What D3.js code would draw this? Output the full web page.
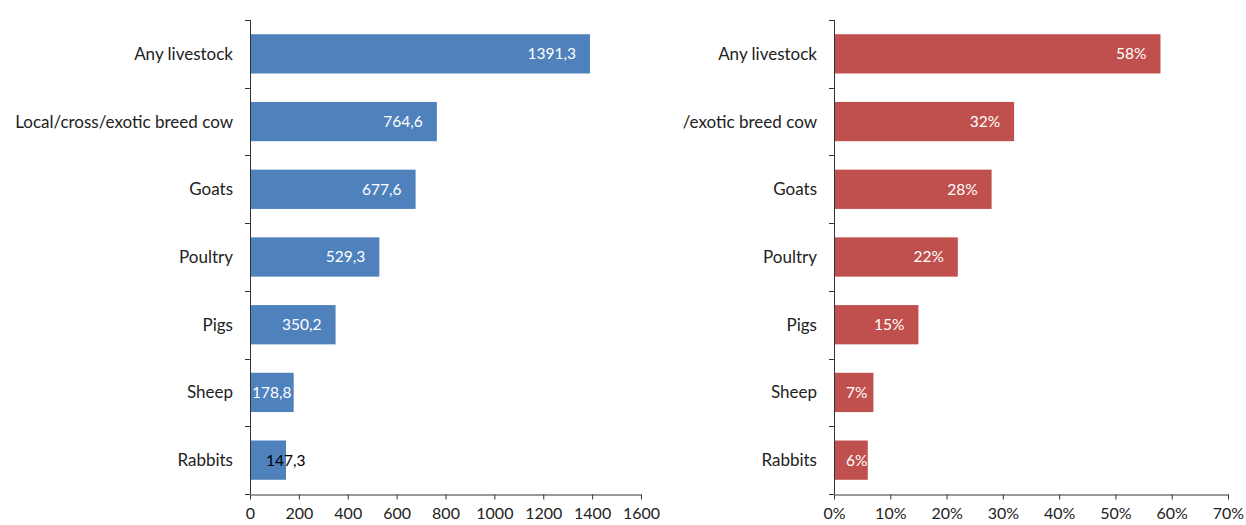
<!DOCTYPE html>
<html>
<head>
<meta charset="utf-8">
<script src="https://cdn.jsdelivr.net/npm/d3@7"></script>
<style>
  body { margin: 0; background: #fff; }
  text { font-family: Lato, "Open Sans", sans-serif; }
</style>
</head>
<body>
<svg id="chart" width="1246" height="525"></svg>
<script>
const categories = ['Any livestock', 'Local/cross/exotic breed cow', 'Goats', 'Poultry', 'Pigs', 'Sheep', 'Rabbits']
const counts = [1391.3, 764.6, 677.6, 529.3, 350.2, 178.8, 147.3]
const shares = [0.58, 0.32, 0.28, 0.22, 0.15, 0.07, 0.06]
const countTicks = [0, 200, 400, 600, 800, 1000, 1200, 1400, 1600]
const shareTicks = [0, 0.1, 0.2, 0.3, 0.4, 0.5, 0.6, 0.7]
const countLabelColors = ['#fff', '#fff', '#fff', '#fff', '#fff', '#fff', '#000']

const svg = d3.select('#chart')
const plotTop = 20, plotBottom = 494

const y = d3.scaleBand()
  .domain(categories)
  .range([plotTop, plotBottom])
  .paddingInner(0.42)
  .paddingOuter(0.21)

function drawPanel(opts) {
  const g = svg.append('g')
  const x = d3.scaleLinear().domain(opts.domain).range([opts.x0, opts.x1])

  // clip for category labels (right panel cuts the long one)
  const clipId = 'clip' + opts.x0
  svg.append('clipPath').attr('id', clipId)
    .append('rect')
      .attr('x', opts.clipLeft).attr('y', 0)
      .attr('width', opts.x0 - opts.clipLeft).attr('height', 525)

  // bars
  g.selectAll('rect.bar')
    .data(opts.values)
    .join('rect')
      .attr('class', 'bar')
      .attr('x', x(0))
      .attr('y', (d, i) => y(categories[i]))
      .attr('width', d => x(d) - x(0))
      .attr('height', y.bandwidth())
      .attr('fill', opts.color)

  // value labels
  g.selectAll('text.val')
    .data(opts.values)
    .join('text')
      .attr('class', 'val')
      .attr('y', (d, i) => y(categories[i]) + y.bandwidth() / 2)
      .attr('dy', '0.35em')
      .attr('text-anchor', 'end')
      .attr('font-size', 15.5)
      .attr('fill', (d, i) => opts.labelColors[i])
      .text(d => opts.format(d))
      .attr('x', function(d, i) {
        const w = this.getComputedTextLength()
        return Math.max(x(d) - 14, x(0) + w + opts.minPad[i])
      })

  // category labels
  g.append('g').attr('clip-path', 'url(#' + clipId + ')')
    .selectAll('text')
    .data(categories)
    .join('text')
      .attr('x', opts.x0 - 17)
      .attr('y', d => y(d) + y.bandwidth() / 2)
      .attr('dy', '0.35em')
      .attr('text-anchor', 'end')
      .attr('font-size', 17)
      .attr('fill', '#222')
      .text(d => d)

  // y axis line + band ticks
  const axis = g.append('g').attr('stroke', '#333').attr('stroke-width', 1)
  axis.append('line')
    .attr('x1', x(0) + 0.5).attr('x2', x(0) + 0.5)
    .attr('y1', plotTop).attr('y2', plotBottom)
  const bounds = categories.map(c => y(c) - y.step() * y.paddingInner() / 2)
  bounds.push(plotBottom)
  axis.selectAll('line.yt')
    .data(bounds)
    .join('line')
      .attr('class', 'yt')
      .attr('x1', x(0) - 5).attr('x2', x(0))
      .attr('y1', d => Math.round(Math.max(d, plotTop)) + 0.5)
      .attr('y2', d => Math.round(Math.max(d, plotTop)) + 0.5)

  // x axis
  const xAxis = d3.axisBottom(x)
    .tickValues(opts.ticks)
    .tickFormat(opts.tickFormat)
    .tickSize(5)
    .tickSizeOuter(0)
  const xg = g.append('g')
    .attr('transform', 'translate(0,' + (plotBottom + 0.5) + ')')
    .call(xAxis)
  xg.select('.domain').attr('stroke', '#333')
  xg.selectAll('.tick line').attr('stroke', '#333')
  xg.selectAll('.tick text')
    .attr('font-size', 16)
    .attr('font-family', 'Lato, "Open Sans", sans-serif')
    .attr('fill', '#222')
    .attr('dy', '1.05em')
}

drawPanel({
  values: counts,
  domain: [0, 1600],
  x0: 250, x1: 641,
  clipLeft: 0,
  color: '#4F81BD',
  ticks: countTicks,
  tickFormat: d => d,
  format: d => d.toFixed(1).replace('.', ','),
  labelColors: countLabelColors,
  minPad: [2, 2, 2, 2, 2, 2, 16]
})

drawPanel({
  values: shares,
  domain: [0, 0.7],
  x0: 834, x1: 1228,
  clipLeft: 682,
  color: '#C0504D',
  ticks: shareTicks,
  tickFormat: d => Math.round(d * 100) + '%',
  format: d => Math.round(d * 100) + '%',
  labelColors: shares.map(() => '#fff'),
  minPad: shares.map(() => 12)
})
</script>
</body>
</html>
